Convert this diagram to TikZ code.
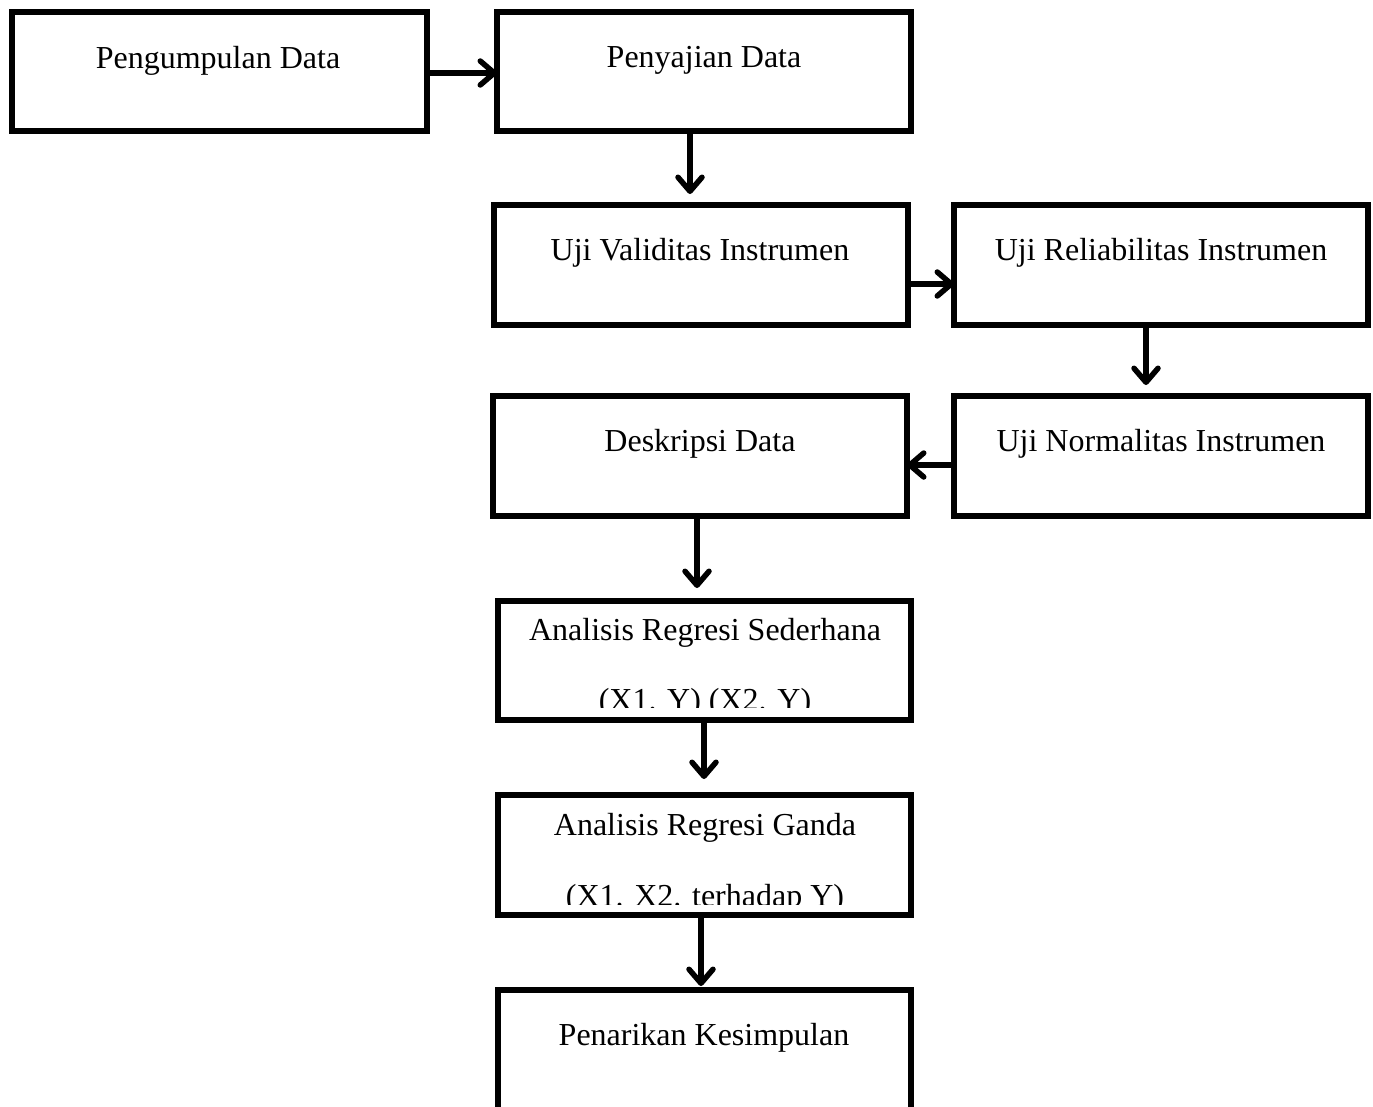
\documentclass[tikz,border=0pt]{standalone}
\usepackage{fontspec}
\setmainfont{Liberation Serif}
\usetikzlibrary{arrows.meta}
\begin{document}
\begin{tikzpicture}[x=1pt,y=-1pt,
  box/.style={draw,line width=5.5pt,inner sep=0pt,outer sep=0pt},
  lbl/.style={anchor=base,inner sep=0pt,font=\fontsize{32}{38}\selectfont},
  arr/.style={line width=5.5pt,line cap=round,line join=round,-{Straight Barb[length=14pt,width=24pt,line cap=round,line join=round]}}]
\clip (0,0) rectangle (1373,1106);
\fill[white] (0,0) rectangle (1373,1106);
% boxes
\node[box,minimum width=415pt,minimum height=119pt] (b1) at (219.5,71.5) {};
\node[box,minimum width=414pt,minimum height=119pt] (b2) at (704,71.5) {};
\node[box,minimum width=414pt,minimum height=120pt] (b3) at (701,265) {};
\node[box,minimum width=414pt,minimum height=120pt] (b4) at (1161,265) {};
\node[box,minimum width=414pt,minimum height=120pt] (b5) at (700,456) {};
\node[box,minimum width=414pt,minimum height=120pt] (b6) at (1161,456) {};
\node[box,minimum width=413pt,minimum height=119pt] (b7) at (704.5,660.5) {};
\node[box,minimum width=413pt,minimum height=120pt] (b8) at (704.5,855) {};
\node[box,minimum width=413pt,minimum height=160pt] (b9) at (704.5,1070) {};
% labels
\node[lbl] (t1) at (218,68) {Pengumpulan Data};
\node[lbl] (t2) at (704,67) {Penyajian Data};
\node[lbl] (t3) at (700,260) {Uji Validitas Instrumen};
\node[lbl] (t4) at (1161,260) {Uji Reliabilitas Instrumen};
\node[lbl] (t5) at (700,451) {Deskripsi Data};
\node[lbl] (t6) at (1161,451) {Uji Normalitas Instrumen};
\node[lbl] (t7a) at (705,640) {Analisis Regresi Sederhana};
\begin{scope}
\clip (b7.north west) rectangle (b7.east |- 0,707);
\node[lbl] (t7b) at (705,710) {(X1. Y) (X2. Y)};
\end{scope}
\node[lbl] (t8a) at (705,835) {Analisis Regresi Ganda};
\begin{scope}
\clip (b8.north west) rectangle (b8.east |- 0,904);
\node[lbl] (t8b) at (705,906) {(X1. X2. terhadap Y)};
\end{scope}
\node[lbl] (t9) at (704,1045) {Penarikan Kesimpulan};
% connectors
\coordinate (y1) at (0,73);
\coordinate (x2) at (690,0);
\coordinate (y3) at (0,284);
\coordinate (x4) at (1146,0);
\coordinate (y5) at (0,465);
\coordinate (x6) at (697,0);
\coordinate (x7) at (704,0);
\coordinate (x8) at (701,0);
\draw[arr] (b1.east |- y1) -- (b2.west |- y1);
\draw[arr,shorten >=11pt] (b2.south -| x2) -- (b3.north -| x2);
\draw[arr] (b3.east |- y3) -- (b4.west |- y3);
\draw[arr,shorten >=11pt] (b4.south -| x4) -- (b6.north -| x4);
\draw[arr] (b6.west |- y5) -- (b5.east |- y5);
\draw[arr,shorten >=13pt] (b5.south -| x6) -- (b7.north -| x6);
\draw[arr,shorten >=16pt] (b7.south -| x7) -- (b8.north -| x7);
\draw[arr,shorten >=4pt] (b8.south -| x8) -- (b9.north -| x8);
\end{tikzpicture}
\end{document}
